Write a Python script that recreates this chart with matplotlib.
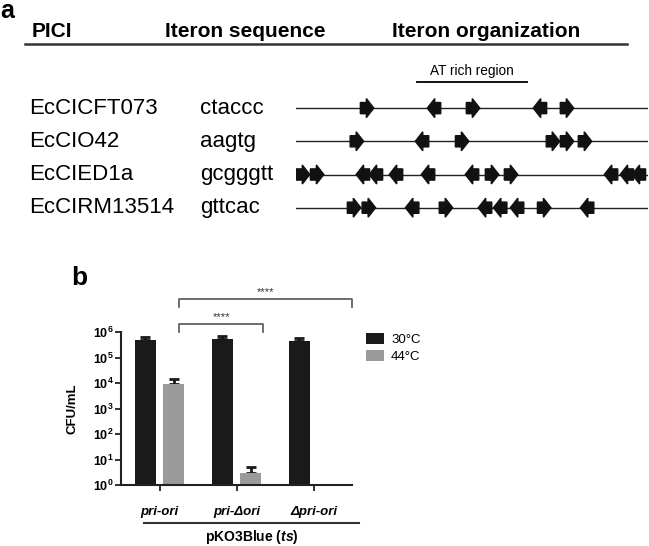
import numpy as np
import matplotlib
matplotlib.use("Agg")
import matplotlib.pyplot as plt
from matplotlib.patches import Polygon
from matplotlib.lines import Line2D
from matplotlib import transforms
from matplotlib.ticker import FixedLocator, FuncFormatter, NullLocator

plt.rcParams['font.family'] = ['Liberation Sans', 'DejaVu Sans']
plt.rcParams['mathtext.fontset'] = 'custom'
plt.rcParams['mathtext.rm'] = 'Liberation Sans:bold'
plt.rcParams['mathtext.it'] = 'Liberation Sans:italic:bold'
plt.rcParams['mathtext.bf'] = 'Liberation Sans:bold'

# ---- panel a data: iteron organization (positions along the region, 0-100) ----
pici = ["EcCICFT073", "EcCIO42", "EcCIED1a", "EcCIRM13514"]
iteron_seq = ["ctaccc", "aagtg", "gcgggtt", "gttcac"]
iteron_pos = [
    [20.2, 39.2, 50.3, 69.3, 77.0],
    [17.3, 35.8, 47.2, 73.0, 77.0, 82.1],
    [2.0, 6.0, 19.0, 22.7, 28.4, 37.5, 50.0, 55.7, 61.1, 89.5, 94.0, 97.4],
    [16.5, 20.7, 33.0, 42.6, 53.7, 58.0, 62.8, 70.5, 82.7],
]
iteron_dir = [
    [1, -1, 1, -1, 1],
    [1, -1, 1, 1, 1, 1],
    [1, 1, -1, -1, -1, -1, -1, 1, 1, -1, -1, -1],
    [1, 1, -1, 1, -1, -1, -1, 1, -1],
]
at_rich = [34.4, 65.6]

# ---- panel b data ----
constructs = ["pri-ori", "pri-\u0394ori", "\u0394pri-ori"]
cfu_30 = [4.8e5, 5.2e5, 4.6e5]
cfu_30_err = [1.5e5, 1.7e5, 1.2e5]
cfu_44 = [9.0e3, 3.0, np.nan]
cfu_44_err = [5.0e3, 2.2, np.nan]
sig_x = [(0.25, 1.35), (0.25, 2.5)]
sig_top = [2.0e6, 1.95e7]
sig_drop = [1.0e6, 9.5e6]
sig_label = ["****", "****"]

W, H = 649, 546
fig = plt.figure(figsize=(W / 100, H / 100), dpi=100)


def fx(x):
    return x / W


def fy(y):
    return 1 - y / H


# ================= panel a =================
fig.text(fx(0), fy(18), "a", fontsize=18, fontweight="bold", va="baseline")
head_y = 37
fig.text(fx(32), fy(head_y), "PICI", fontsize=15, fontweight="bold", va="baseline")
fig.text(fx(165), fy(head_y), "Iteron sequence", fontsize=15, fontweight="bold", va="baseline")
fig.text(fx(392), fy(head_y), "Iteron organization", fontsize=15, fontweight="bold", va="baseline")
fig.add_artist(Line2D([fx(25), fx(627)], [fy(44), fy(44)], color="#333333", lw=1.8))

line_x0, line_x1 = 296, 648
row_top, row_h = 91.5, 33.2
ax_a = fig.add_axes([fx(line_x0), fy(row_top + 4 * row_h), fx(line_x1) - fx(line_x0), 4 * row_h / H])
ax_a.set_xlim(0, 100)
ax_a.set_ylim(3.5, -0.5)
ax_a.axis("off")

ux = 100 / (line_x1 - line_x0)   # data units per pixel
uy = 1 / row_h
L, body, bh, hh = 13.5 * ux, 6 * ux, 5.6 * uy, 9.5 * uy

blend = transforms.blended_transform_factory(fig.transFigure, ax_a.transData)
for i, (name, seq) in enumerate(zip(pici, iteron_seq)):
    ax_a.text(fx(29), i, name, transform=blend, fontsize=16, va="center")
    ax_a.text(fx(200), i, seq, transform=blend, fontsize=16, va="center")
    ax_a.plot([0, 100], [i, i], color="#222222", lw=1.0, zorder=1)
    for p, d in zip(iteron_pos[i], iteron_dir[i]):
        t = p - d * L / 2
        b = t + d * body
        tip = p + d * L / 2
        pts = [(t, i - bh), (b, i - bh), (b, i - hh), (tip, i),
               (b, i + hh), (b, i + bh), (t, i + bh)]
        ax_a.add_patch(Polygon(pts, closed=True, color="#111111", zorder=2))

first_row_y = row_top + row_h / 2
ax_a.plot(at_rich, [-(first_row_y - 82) / row_h] * 2, color="#111111", lw=1.4, clip_on=False)
ax_a.text(np.mean(at_rich), -(first_row_y - 71) / row_h, "AT rich region", fontsize=9.8,
          ha="center", va="center", clip_on=False)

# ================= panel b =================
fig.text(fx(71), fy(266), "b", fontsize=19, fontweight="bold", va="top")

ax = fig.add_axes([fx(121), fy(485), fx(352) - fx(121), (485 - 332) / H])
x = np.arange(len(constructs))
bw = 0.27
off = 0.185
ax.bar(x - off, cfu_30, bw, color="#1a1a1a", label="30\u00b0C", zorder=2)
ax.bar(x + off, cfu_44, bw, color="#9b9b9b", label="44\u00b0C", zorder=2)
ax.errorbar(x - off, cfu_30, yerr=[np.zeros(3), cfu_30_err], fmt="none",
            ecolor="#1a1a1a", elinewidth=2, capsize=3.5, capthick=2, zorder=1)
ax.errorbar(x + off, cfu_44, yerr=[np.zeros(3), cfu_44_err], fmt="none",
            ecolor="#1a1a1a", elinewidth=2, capsize=3.5, capthick=2, zorder=1)

ax.set_yscale("log")
ax.set_ylim(1, 1e6)
ax.set_xlim(-0.5, 2.5)
ax.yaxis.set_major_locator(FixedLocator([10.0 ** k for k in range(7)]))
ax.yaxis.set_minor_locator(NullLocator())
ax.yaxis.set_major_formatter(FuncFormatter(lambda v, _: r"$10^{%d}$" % round(np.log10(v))))
ax.tick_params(axis="y", labelsize=9, length=4, width=1.3, pad=1.5, color="#222222")
ax.set_xticks(x)
ax.set_xticklabels(constructs, fontstyle="italic", fontweight="bold", fontsize=9.5)
ax.tick_params(axis="x", length=4, width=1.3, pad=11, color="#222222")
for s in ["top", "right"]:
    ax.spines[s].set_visible(False)
for s in ["left", "bottom"]:
    ax.spines[s].set_linewidth(1.5)
    ax.spines[s].set_color("#222222")
ax.set_ylabel("CFU/mL", fontsize=9.5, fontweight="bold")
ax.yaxis.set_label_coords((78 - 121) / 231, 0.5)

for (x0, x1), yt, yd, lab in zip(sig_x, sig_top, sig_drop, sig_label):
    ax.plot([x0, x0, x1, x1], [yd, yt, yt, yd], color="#555555", lw=1.2, clip_on=False)
    ax.text((x0 + x1) / 2, yt * 1.25, lab, ha="center", va="bottom", fontsize=8,
            color="#333333", clip_on=False)

ax.legend(loc="upper left", bbox_to_anchor=(fx(366), fy(333)), bbox_transform=fig.transFigure,
          frameon=False, fontsize=9.5, handlelength=1.4, handleheight=0.9,
          handletextpad=0.5, labelspacing=0.3, borderpad=0, borderaxespad=0)

fig.add_artist(Line2D([fx(144), fx(359)], [fy(523), fy(523)], color="#333333", lw=1.5))
fig.text(fx(252), fy(537), r"pKO3Blue ($ts$)", fontsize=10, fontweight="bold",
         ha="center", va="center")

fig.savefig("out.png", dpi=100)
